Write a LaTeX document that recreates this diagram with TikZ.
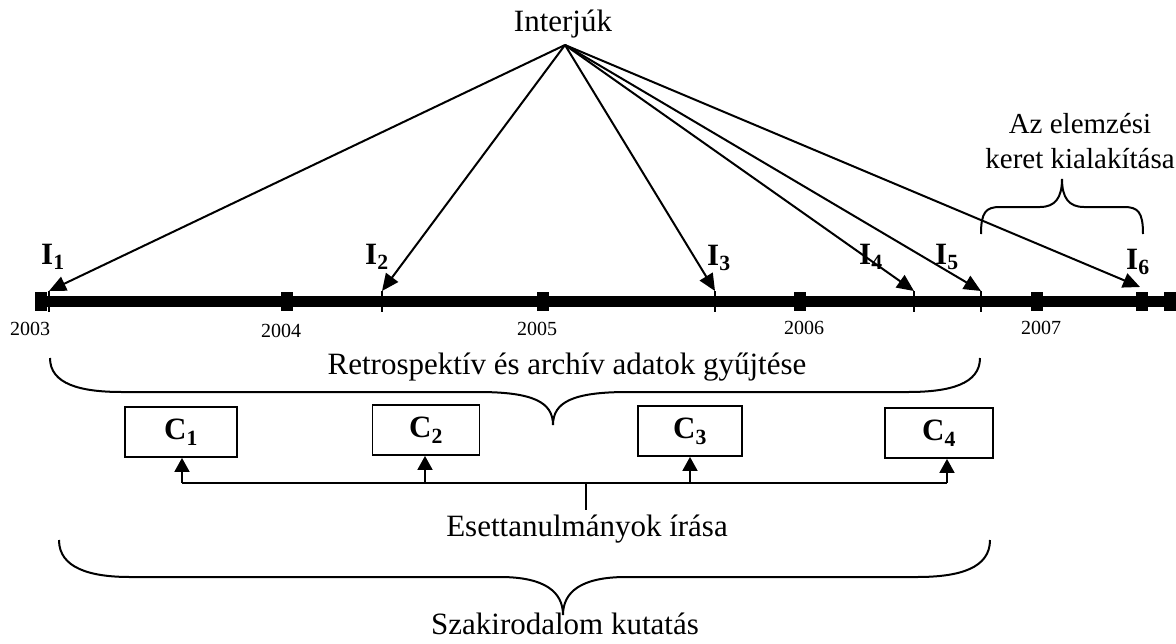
\documentclass[tikz,border=0pt]{standalone}
\usepackage{fontspec}
\setmainfont{Liberation Serif}
\usetikzlibrary{arrows.meta}
\begin{document}
\begin{tikzpicture}[x=1pt,y=-1pt,
  lbl/.style={font=\fontsize{31}{36}\selectfont,inner sep=0pt},
  smlbl/.style={font=\fontsize{29}{34}\selectfont,inner sep=0pt},
  ilbl/.style={font=\fontsize{31}{36}\selectfont\bfseries,inner sep=0pt,anchor=base west},
  yr/.style={font=\fontsize{20}{24}\selectfont,inner sep=0pt},
  cbox/.style={draw,line width=1.8pt,minimum height=50pt,inner sep=0pt,font=\fontsize{31}{36}\selectfont\bfseries},
  arr/.style={line width=2pt,-{Triangle[length=17pt,width=15pt]}},
  uparr/.style={line width=1.8pt,-{Triangle[length=14pt,width=15pt]}},
  yearmark/.style={fill=black,minimum width=12pt,minimum height=19pt,inner sep=0pt},
  thin/.style={line width=1.3pt},
  brc/.style={line width=2pt},
  conn/.style={line width=1.8pt}
]
\useasboundingbox (0,0) rectangle (1176,643);

% title
\node[lbl,anchor=base] (interj) at (563,31) {Interjúk};
\coordinate (apex) at (565,45);

% timeline
\coordinate (tl) at (35,301);
\coordinate (tr) at (1176,301);
\draw[line width=11pt] (tl) -- (tr);
\foreach \x/\n in {41/m3,287/m4,543/m5,800/m6,1037/m7,1142/mi6,1170/mend}
  \node[yearmark] (\n) at (\x,301) {};

% year labels
\node[yr] (y2003) at (30,329) {2003};
\node[yr] (y2004) at (281,331) {2004};
\node[yr] (y2005) at (537,329) {2005};
\node[yr] (y2006) at (804,328) {2006};
\node[yr] (y2007) at (1041,328) {2007};

% interview ticks
\foreach \x/\n in {49/t1,382/t2,715/t3,914/t4,981/t5}{
  \coordinate (\n) at (\x,291);
  \coordinate (\n b) at (\x,312);
  \draw[thin] (\n) -- (\n b);
}
\coordinate (t6) at (1140,287);

% interview arrows
\foreach \n in {t1,t2,t3,t4,t5,t6}
  \draw[arr] (apex) -- (\n);

% interview labels
\node[ilbl] (i1) at (41,264) {I\textsubscript{1}};
\node[ilbl] (i2) at (365,264) {I\textsubscript{2}};
\node[ilbl] (i3) at (707,265) {I\textsubscript{3}};
\node[ilbl] (i4) at (859,264) {I\textsubscript{4}};
\node[ilbl] (i5) at (935,264) {I\textsubscript{5}};
\node[ilbl] (i6) at (1126,269) {I\textsubscript{6}};

% analysis frame brace
\node[smlbl,anchor=base] (az1) at (1080,133) {Az elemzési};
\node[smlbl,anchor=base] (az2) at (1080,168) {keret kialakítása};
\draw[brc] (981,234) .. controls (981,212) and (986,207) .. (1000,207)
  -- (1040,207) .. controls (1055,207) and (1062,198) .. (1062,179)
  .. controls (1062,198) and (1069,207) .. (1084,207)
  -- (1124,207) .. controls (1138,207) and (1143,212) .. (1143,234);

% retrospective brace
\node[lbl,anchor=base] (retro) at (567,374) {Retrospektív és archív adatok gyűjtése};
\draw[brc] (50,358) .. controls (50,384) and (80,392) .. (122,392)
  -- (478,392) .. controls (533,392) and (553,402) .. (553,425)
  .. controls (553,402) and (573,392) .. (628,392)
  -- (908,392) .. controls (950,392) and (980,384) .. (980,358);

% case boxes
\node[cbox,minimum width=112pt] (c1) at (181,432) {C\textsubscript{1}};
\node[cbox,minimum width=107pt] (c2) at (426,430) {C\textsubscript{2}};
\node[cbox,minimum width=104pt] (c3) at (690,431) {C\textsubscript{3}};
\node[cbox,minimum width=108pt] (c4) at (939,433) {C\textsubscript{4}};

\coordinate (h1) at (182,483);
\coordinate (h2) at (425,483);
\coordinate (h3) at (690,483);
\coordinate (h4) at (947,483);
\coordinate (st) at (586,483);
\coordinate (sb) at (586,510);
\draw[conn] (h1) -- (h4);
\draw[conn] (st) -- (sb);
\draw[uparr] (h1) -- (h1 |- c1.south);
\draw[uparr] (h2) -- (h2 |- c2.south);
\draw[uparr] (h3) -- (h3 |- c3.south);
\draw[uparr] (h4) -- (h4 |- c4.south);

\node[lbl,anchor=base] (eset) at (587,536) {Esettanulmányok írása};

% literature brace
\draw[brc] (59,540) .. controls (59,568) and (90,577) .. (130,577)
  -- (500,577) .. controls (545,577) and (563,592) .. (563,615)
  .. controls (563,592) and (581,577) .. (626,577)
  -- (917,577) .. controls (960,577) and (990,568) .. (990,540);
\node[lbl,anchor=base] (szak) at (565,634) {Szakirodalom kutatás};
\end{tikzpicture}
\end{document}
